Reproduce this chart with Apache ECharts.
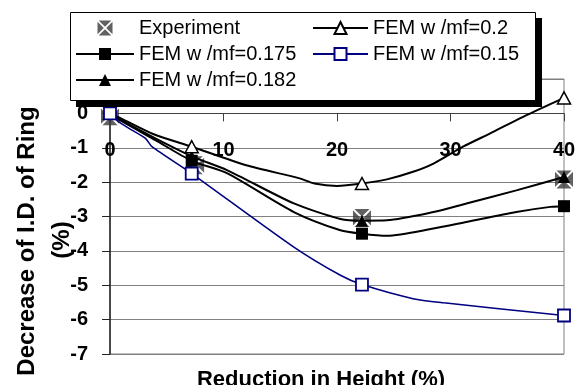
<!DOCTYPE html>
<html><head><meta charset="utf-8">
<script src="https://cdn.jsdelivr.net/npm/echarts@6/dist/echarts.min.js"></script>
<style>html,body{margin:0;padding:0;background:#fff}#c{width:576px;height:385px}</style>
</head><body><div id="c"></div>
<script>
// ---- data ----
const seriesNames = ['Experiment', 'FEM w /mf=0.175', 'FEM w /mf=0.182', 'FEM w /mf=0.2', 'FEM w /mf=0.15'];
const expX = [0, 7.5, 22.2, 40];
const expY = [-0.08, -1.51, -3.04, -1.92];
const fem175X = [0, 1, 4, 7.2, 10.3, 16.2, 20.3, 22.2, 24.4, 28.5, 31.4, 35.8, 38.8, 40];
const fem175Y = [0, -0.22, -0.78, -1.38, -1.74, -2.87, -3.4, -3.5, -3.56, -3.35, -3.16, -2.87, -2.72, -2.7];
const fem182X = [0, 1, 4, 7.2, 10.3, 16.2, 20.3, 22.2, 24.4, 28.5, 31.4, 35.8, 40];
const fem182Y = [0, -0.2, -0.73, -1.25, -1.65, -2.62, -3.07, -3.12, -3.11, -2.87, -2.62, -2.24, -1.85];
const fem20X = [0, 1, 3.8, 7.2, 12, 16.7, 18, 20, 22.2, 24.4, 26.7, 28.5, 31.1, 33.5, 36.4, 40];
const fem20Y = [0, -0.15, -0.6, -0.97, -1.51, -1.89, -2.04, -2.11, -2.04, -1.92, -1.7, -1.46, -0.97, -0.58, -0.1, 0.45];
const fem15X = [0, 1, 3.1, 3.7, 7.2, 16.2, 20.3, 22.2, 26.7, 29.4, 40];
const fem15Y = [0, -0.3, -0.72, -0.97, -1.75, -3.89, -4.71, -4.98, -5.39, -5.51, -5.88];
const markerX = [0, 7.2, 22.2, 40];
const yMin = -7, yMax = 1;
const xTitle = 'Reduction in Height (%)';
const yTitle1 = 'Decrease of I.D. of Ring';
const yTitle2 = '(%)';

// ---- build ----
const FONT = "'Liberation Sans', Arial, sans-serif";
const GRID = { left: 110, right: 12, top: 79, bottom: 31 };
const plotH = 385 - GRID.top - GRID.bottom;
// x axis drawn at y = 0: offset from the top edge of the grid
const xAxisOffset = -plotH * (yMax - 0) / (yMax - yMin);

function pts(xs, ys) {
  return xs.map((x, i) => markerX.includes(x) ? { value: [x, ys[i]] } : { value: [x, ys[i]], symbol: 'none' });
}
const expSymbol = 'path://M1.6,0L18.4,0L10,8.4Z M20,1.6L20,18.4L11.6,10Z M18.4,20L1.6,20L10,11.6Z M0,18.4L0,1.6L8.4,10Z';

const chart = echarts.init(document.getElementById('c'), null, { renderer: 'canvas' });
const legendBase = {
  orient: 'vertical', top: 18, padding: 0, itemHeight: 15, itemGap: 6, selectedMode: false, z: 20,
  textStyle: { fontSize: 20, color: '#000', fontFamily: FONT }
};
chart.setOption({
  animation: false,
  textStyle: { fontFamily: FONT },
  grid: Object.assign({ show: true, borderColor: '#808080', borderWidth: 1, outerBoundsMode: 'none', containLabel: false }, GRID),
  legend: [
    Object.assign({}, legendBase, { data: seriesNames.slice(0, 3), left: 75, itemWidth: 58 }),
    Object.assign({}, legendBase, { data: seriesNames.slice(3), left: 312, itemWidth: 55 })
  ],
  xAxis: {
    type: 'value', min: 0, max: 40, interval: 10, position: 'top', offset: xAxisOffset,
    axisLine: { show: true, onZero: false, lineStyle: { color: '#404040', width: 1 } },
    axisTick: { show: true, length: 8, inside: true, lineStyle: { color: '#404040', width: 1 } },
    axisLabel: { inside: true, fontSize: 20, fontWeight: 'bold', color: '#000', margin: 27 },
    splitLine: { show: false }
  },
  yAxis: {
    type: 'value', min: yMin, max: yMax, interval: 1,
    axisLine: { show: true, onZero: false, lineStyle: { color: '#222', width: 1.5 } },
    axisTick: { show: true, length: 8, lineStyle: { color: '#222', width: 1 } },
    axisLabel: { fontSize: 20, fontWeight: 'bold', color: '#000', margin: 22, formatter: v => (v === 1 ? '' : String(v)) },
    splitLine: { show: true, lineStyle: { color: '#808080', width: 1 } }
  },
  series: [
    { name: seriesNames[0], type: 'scatter', symbol: expSymbol, symbolSize: 18,
      itemStyle: { color: '#3a3a3a' }, data: expX.map((x, i) => [x, expY[i]]) },
    { name: seriesNames[1], type: 'line', smooth: 0.25, symbol: 'rect', symbolSize: 12,
      lineStyle: { color: '#000', width: 2 }, itemStyle: { color: '#000' }, data: pts(fem175X, fem175Y) },
    { name: seriesNames[2], type: 'line', smooth: 0.25, symbol: 'triangle', symbolSize: 12,
      lineStyle: { color: '#000', width: 2 }, itemStyle: { color: '#000' }, data: pts(fem182X, fem182Y) },
    { name: seriesNames[3], type: 'line', smooth: 0.25, symbol: 'triangle', symbolSize: [13, 12],
      lineStyle: { color: '#000', width: 2 }, itemStyle: { color: '#fff', borderColor: '#000', borderWidth: 1.5 }, data: pts(fem20X, fem20Y) },
    { name: seriesNames[4], type: 'line', smooth: 0.25, symbol: 'rect', symbolSize: 12,
      lineStyle: { color: '#000080', width: 1.6 }, itemStyle: { color: '#fff', borderColor: '#000080', borderWidth: 1.8 }, data: pts(fem15X, fem15Y) }
  ],
  graphic: [
    { type: 'rect', z: 10, shape: { x: 76, y: 18, width: 466, height: 89 }, style: { fill: '#000' } },
    { type: 'rect', z: 11, shape: { x: 70.5, y: 12.5, width: 465, height: 88 }, style: { fill: '#fff', stroke: '#000', lineWidth: 1 } },
    { type: 'text', z: 12, x: 321, y: 380, style: { text: xTitle, font: "bold 22px " + FONT, fill: '#000', textAlign: 'center', textVerticalAlign: 'middle' } },
    { type: 'text', z: 12, x: 27, y: 241, rotation: Math.PI / 2, style: { text: yTitle1, font: "bold 24px " + FONT, fill: '#000', textAlign: 'center', textVerticalAlign: 'middle' } },
    { type: 'text', z: 12, x: 62, y: 240, rotation: Math.PI / 2, style: { text: yTitle2, font: "bold 24px " + FONT, fill: '#000', textAlign: 'center', textVerticalAlign: 'middle' } }
  ]
});
</script></body></html>
